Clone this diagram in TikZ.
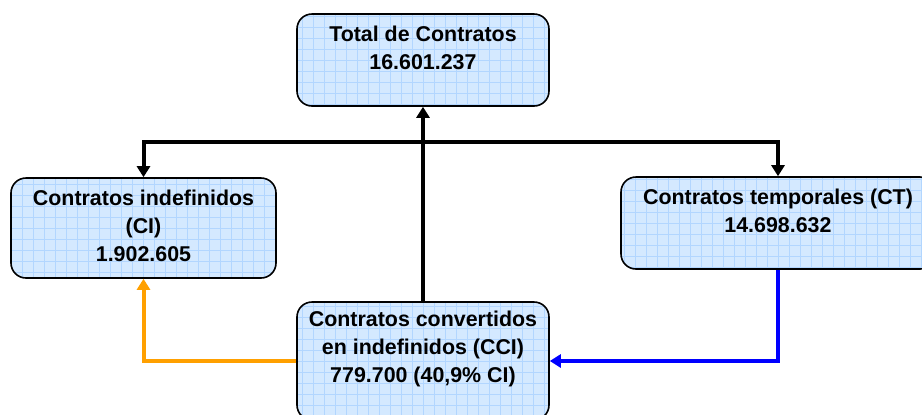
\documentclass[tikz,border=0pt]{standalone}
\usepackage{fontspec}
\setmainfont{Liberation Sans}
\usetikzlibrary{arrows.meta}

\definecolor{boxfill}{RGB}{212,233,255}
\definecolor{gridblue}{RGB}{178,214,255}
\definecolor{convorange}{RGB}{255,160,0}
\definecolor{convblue}{RGB}{0,0,255}

\begin{document}
\begin{tikzpicture}[x=0.5pt,y=-0.5pt,
  box/.style={draw=black,line width=0.8pt,rounded corners=7.5pt,fill=boxfill,
    path picture={\draw[gridblue,line width=0.4pt,step=5.5pt]
      (path picture bounding box.south west) grid (path picture bounding box.north east);}},
  boxtext/.style={align=center,font=\fontsize{10.7}{14}\selectfont\bfseries},
  conn/.style={line width=2pt,-{Triangle[length=5.5pt,width=6.5pt]}}]
\clip (0,0) rectangle (922,414);

\node[box,minimum width=126pt,minimum height=46pt] (total) at (423,60) {};
\node[box,minimum width=132.5pt,minimum height=50pt] (indef) at (143.5,228) {};
\node[box,minimum width=157pt,minimum height=46pt] (temp) at (778,223) {};
\node[box,minimum width=126pt,minimum height=59pt] (ccit) at (423,361) {};

\node[boxtext] (total-txt) at (423,47.5) {Total de Contratos\\16.601.237};
\node[boxtext] (indef-txt) at (143.5,225.5) {Contratos indefinidos\\(CI)\\1.902.605};
\node[boxtext] (temp-txt) at (778,211) {Contratos temporales (CT)\\14.698.632};
\node[boxtext] (ccit-txt) at (423,349) {Contratos convertidos\\en indefinidos (CCI)\\779.700 (40,9\% CI)};

\coordinate (split) at (423,142);
\draw[conn] (ccit.north) -- (total.south);
\draw[conn] (split) -| (indef.north);
\draw[conn] (split) -| (temp.north);
\draw[conn,convorange] (ccit.west) -| (indef.south);
\draw[conn,convblue] (temp.south) |- (ccit.east);
\end{tikzpicture}
\end{document}
